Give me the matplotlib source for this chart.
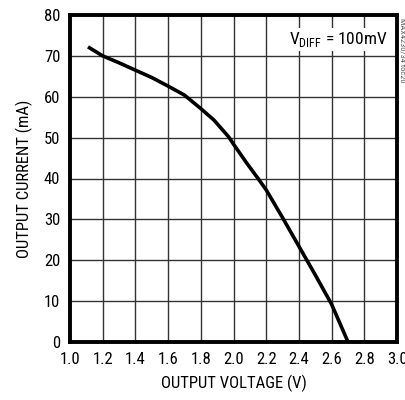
import matplotlib
matplotlib.use("Agg")
import matplotlib.pyplot as plt
from matplotlib import font_manager

# curve
voltage = [1.11, 1.2, 1.3, 1.4, 1.5, 1.6, 1.7, 1.8, 1.88, 1.97, 2.0, 2.08, 2.15,
           2.2, 2.3, 2.4, 2.5, 2.6, 2.7]
current = [72.2, 70.0, 68.3, 66.5, 64.7, 62.6, 60.4, 57.1, 54.3, 50.2, 48.4, 43.8, 40.0,
           37.2, 30.4, 23.4, 16.4, 9.2, 0.0]

x_ticks = [1.0, 1.2, 1.4, 1.6, 1.8, 2.0, 2.2, 2.4, 2.6, 2.8, 3.0]
y_ticks = [0, 10, 20, 30, 40, 50, 60, 70, 80]

names = {f.name for f in font_manager.fontManager.ttflist}
for fam in ['Roboto Condensed', 'Archivo Narrow', 'Liberation Sans']:
    if fam in names:
        plt.rcParams['font.family'] = [fam, 'DejaVu Sans']
        break

fig = plt.figure(figsize=(4.06, 4.0), dpi=100)
ax = fig.add_axes([0.1724, 0.145, 0.8056, 0.8175])

ax.plot(voltage, current, color='black', linewidth=2.6,
        solid_capstyle='butt', solid_joinstyle='round')

ax.set_xlim(1.0, 3.0)
ax.set_ylim(0, 80)
ax.set_xticks(x_ticks)
ax.set_xticklabels(["%.1f" % v for v in x_ticks])
ax.set_yticks(y_ticks)
ax.tick_params(length=0, labelsize=12, pad=7)
ax.grid(True, color='#333333', linewidth=1.0)

for s in ax.spines.values():
    s.set_linewidth(2.8)

ax.set_xlabel('OUTPUT VOLTAGE (V)', fontsize=12, labelpad=6)
ax.set_ylabel('OUTPUT CURRENT (mA)', fontsize=12, labelpad=8)

ax.text(0.97, 0.955, r'V$_{\mathregular{DIFF}}$ = 100mV', transform=ax.transAxes,
        ha='right', va='top', fontsize=12.5,
        bbox=dict(facecolor='white', edgecolor='none', pad=1.5))

fig.text(0.992, 0.955, 'MAX4230/34 toc20', rotation=270, ha='center', va='top',
         fontsize=6, color='#555555')

fig.savefig('out.png', dpi=100)
